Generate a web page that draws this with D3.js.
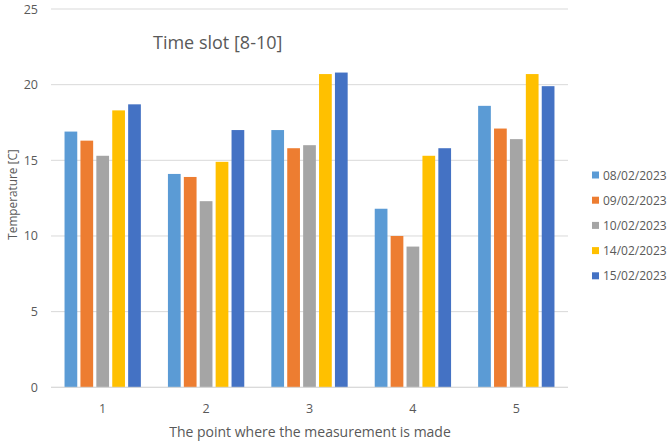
<!DOCTYPE html>
<html>
<head>
<meta charset="utf-8">
<script src="https://cdn.jsdelivr.net/npm/d3@7"></script>
<style>
  html, body { margin: 0; padding: 0; background: #fff; }
  svg text { font-family: "Open Sans", "Noto Sans", sans-serif; fill: #595959; }
</style>
</head>
<body>
<svg id="chart" width="672" height="444"></svg>
<script>
// Measurement points along the x axis
const points = ["1", "2", "3", "4", "5"];
// Measurement dates (one series per date)
const dates = ["08/02/2023", "09/02/2023", "10/02/2023", "14/02/2023", "15/02/2023"];
// Temperatures [C] per date, one value per measurement point
const t0802 = [16.9, 14.1, 17.0, 11.8, 18.6];
const t0902 = [16.3, 13.9, 15.8, 10.0, 17.1];
const t1002 = [15.3, 12.3, 16.0, 9.3, 16.4];
const t1402 = [18.3, 14.9, 20.7, 15.3, 20.7];
const t1502 = [18.7, 17.0, 20.8, 15.8, 19.9];
const yTicks = [0, 5, 10, 15, 20, 25];
const colors = ["#5B9BD5", "#ED7D31", "#A5A5A5", "#FFC000", "#4472C4"];

const seriesValues = [t0802, t0902, t1002, t1402, t1502];
const svg = d3.select("#chart");

const plot = { left: 51, right: 568, top: 9, bottom: 387.3 };

const x0 = d3.scaleBand().domain(points)
  .range([plot.left, plot.right]).paddingInner(0.231).paddingOuter(0.1155);
const x1 = d3.scaleBand().domain(dates)
  .range([0, x0.bandwidth()]).paddingInner(0.2).paddingOuter(0.1);
const y = d3.scaleLinear().domain([0, 25]).range([plot.bottom, plot.top]);

// Horizontal gridlines
svg.append("g")
  .selectAll("line").data(yTicks).join("line")
  .attr("x1", plot.left).attr("x2", plot.right)
  .attr("y1", d => y(d)).attr("y2", d => y(d))
  .attr("stroke", "#d9d9d9").attr("stroke-width", 1);

// Y tick labels
const yAxis = d3.axisLeft(y).tickValues(yTicks).tickSize(0).tickPadding(13);
const gy = svg.append("g").attr("transform", `translate(${plot.left},0)`).call(yAxis);
gy.select(".domain").remove();
gy.selectAll("text").attr("font-size", 12.5).style("font-family", "'Open Sans', sans-serif").attr("fill", "#595959");

// Bars
const groups = svg.append("g").selectAll("g").data(points).join("g")
  .attr("transform", d => `translate(${x0(d)},0)`);
groups.selectAll("rect")
  .data((p, i) => dates.map((dt, s) => ({ date: dt, s, v: seriesValues[s][i] })))
  .join("rect")
  .attr("x", d => x1(d.date))
  .attr("width", x1.bandwidth())
  .attr("y", d => y(d.v))
  .attr("height", d => y(0) - y(d.v))
  .attr("fill", d => colors[d.s]);

// Baseline
svg.append("line")
  .attr("x1", plot.left).attr("x2", plot.right)
  .attr("y1", y(0)).attr("y2", y(0))
  .attr("stroke", "#d9d9d9").attr("stroke-width", 1);

// X tick labels
const xAxis = d3.axisBottom(x0).tickSize(0).tickPadding(17);
const gx = svg.append("g").attr("transform", `translate(0,${y(0)})`).call(xAxis);
gx.select(".domain").remove();
gx.selectAll("text").attr("font-size", 12.5).style("font-family", "'Open Sans', sans-serif").attr("fill", "#595959");

// Title
svg.append("text").attr("x", 153).attr("y", 49)
  .attr("font-size", 18).text("Time slot [8-10]");

// Axis titles
svg.append("text").attr("x", 310).attr("y", 437)
  .attr("text-anchor", "middle").attr("font-size", 14).text("The point where the measurement is made");
svg.append("text").attr("transform", `translate(17,194.5) rotate(-90)`)
  .attr("text-anchor", "middle").attr("font-size", 11.8).text("Temperature [C]");

// Legend
const legend = svg.append("g").selectAll("g").data(dates).join("g")
  .attr("transform", (d, i) => `translate(592,${175 + i * 25.2})`);
legend.append("rect").attr("x", 0).attr("y", -3.5).attr("width", 7).attr("height", 7)
  .attr("fill", (d, i) => colors[i]);
legend.append("text").attr("x", 11).attr("y", 4.5).attr("font-size", 12).text(d => d);
</script>
</body>
</html>
